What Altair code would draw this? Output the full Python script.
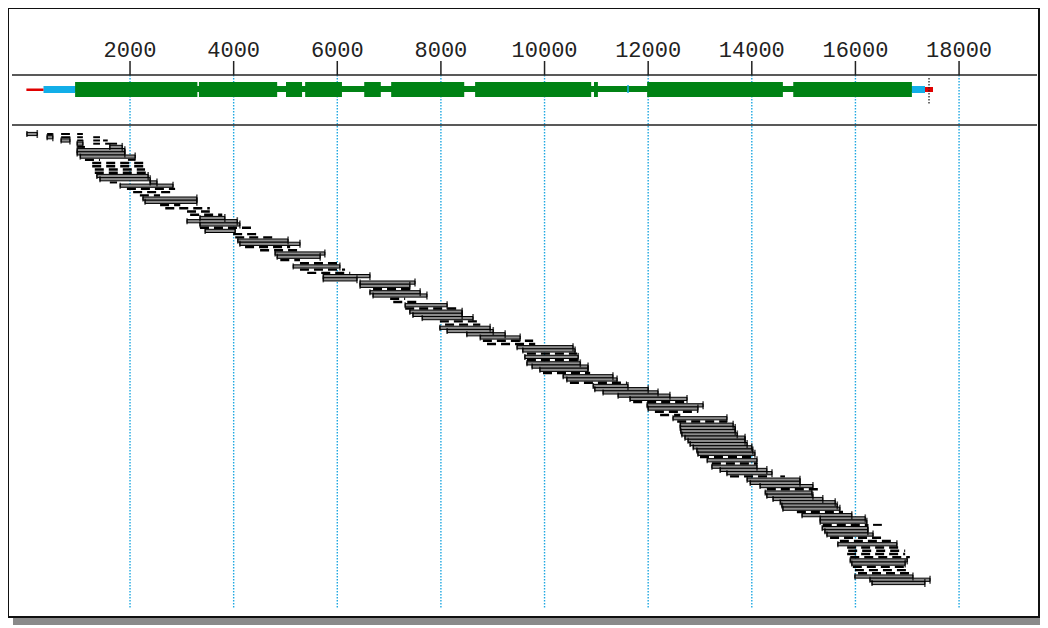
import altair as alt
import pandas as pd

# ---- axis ticks (bp) ----
tick_values = [2000, 4000, 6000, 8000, 10000, 12000, 14000, 16000, 18000]

# ---- gene model (bp) ----
exon_start = [940, 3330, 5010, 5380, 6520, 7040, 8660, 10955, 11980, 14800]
exon_end = [3300, 4840, 5320, 6090, 6840, 8450, 10900, 11030, 14600, 17090]
intron_start = [940]
intron_end = [17090]
utr_start = [330, 17090]
utr_end = [940, 17343]
flank_start = [0]
flank_end = [330]
flank3_start = [17343]
flank3_end = [17497]
mark_pos = [11611]
end_marker = [17420]

# ---- aligned reads: one main read per row (bp) ----
read_start = [10, 400, 670, 980, 1610, 980, 980, 1040, 1130, 1270,
              1270, 1320, 1320, 1360, 1420, 2390, 1810, 1940, 2060, 2190,
              2250, 2290, 2580, 2680, 3100, 3160, 3350, 3100, 3350, 3350,
              3450, 3990, 4030, 4080, 4120, 4220, 4510, 4800, 4840, 4900,
              5280, 5150, 5280, 5420, 5730, 5730, 6440, 6440, 6690, 6630,
              6690, 7020, 7080, 7310, 7310, 7400, 7460, 7640, 7980, 8080,
              7980, 8120, 8500, 8760, 8810, 8890, 9470, 9580, 9660, 9620,
              9660, 9660, 9760, 9910, 9970, 10360, 10430, 10490, 10940, 10970,
              11130, 11420, 11650, 11710, 11980, 12000, 12130, 12230, 12480, 12560,
              12620, 12620, 12630, 12650, 12710, 12770, 12810, 12870, 12940, 12960,
              13000, 13140, 13230, 13230, 13390, 13520, 13580, 13910, 13970, 14160,
              14290, 14260, 14290, 14410, 14550, 14580, 14600, 14870, 14970, 15320,
              15320, 15370, 15360, 15410, 15450, 15510, 15700, 15660, 15840, 15860,
              15840, 15900, 15900, 15930, 15950, 15990, 16050, 15990, 16280, 16320]
read_end = [210, 510, 840, 1090, 1850, 1900, 1900, 2100, 1420, 2330,
            2330, 2290, 2350, 2350, 2390, 2520, 2830, 2870, 2870, 2580,
            3290, 3290, 2970, 3540, 3540, 3780, 3830, 4070, 4120, 4410,
            4030, 4450, 4840, 5050, 5280, 5090, 5280, 5760, 5670, 5280,
            6000, 6050, 6150, 6250, 6630, 6380, 7500, 7400, 7460, 7600,
            7730, 7310, 7600, 8120, 8370, 8410, 8410, 8620, 8700, 8760,
            8950, 9010, 9240, 9530, 9780, 9820, 10550, 10590, 10630, 10650,
            10690, 10690, 10840, 10840, 10880, 11320, 11400, 11590, 11610, 12000,
            12190, 12420, 12750, 12770, 13060, 12960, 12960, 12620, 13520, 13520,
            13640, 13680, 13680, 13720, 13870, 13870, 13910, 14000, 14020, 14060,
            14060, 14100, 14100, 14100, 14290, 14390, 14350, 14930, 14930, 15180,
            15360, 15160, 15180, 15370, 15610, 15650, 15700, 15760, 15930, 16190,
            16220, 16240, 16240, 16240, 16340, 16530, 16730, 16800, 16860, 16960,
            16960, 17050, 17000, 16960, 17020, 17050, 17090, 17110, 17440, 17340]
read_style = list(
    "ssssssssdd" "dddssssddd" "ssddddsssd" "sddssddssd" "dsddssssds"
    "sddsdsssdd" "ssssddssds" "dsssdssdss" "sssdssddsd" "ssssssssss"
    "dsdsssdsss" "dssssssdss" "sdsssddsdd" "ddssdddsss")

# short extra fragments sharing rows
frag_row = [0, 0, 0, 1, 1, 1, 2, 2, 2, 3, 3, 4, 8, 15, 106, 121]
frag_start = [400, 670, 980, 670, 980, 1290, 980, 1290, 1480, 1290, 1520, 980, 1960, 1610, 14550, 16340]
frag_end = [510, 840, 1090, 840, 1090, 1420, 1090, 1420, 1570, 1420, 1750, 1130, 2100, 1750, 14640, 16510]

xs = alt.Scale(domain=[-355, 19620], range=[0, 1035], nice=False, zero=False)
ys = alt.Scale(domain=[0, 139], range=[121, 580], nice=False, zero=False)

reads = pd.DataFrame({"row": list(range(len(read_start))), "start": read_start,
                      "end": read_end, "style": read_style})
frags = pd.DataFrame({"row": frag_row, "start": frag_start, "end": frag_end})
ticks = pd.DataFrame({"pos": tick_values, "label": [str(v) for v in tick_values]})

def span(starts, ends):
    return pd.DataFrame({"start": starts, "end": ends})

def X(f):
    return alt.X(f, scale=xs, axis=None)

Y = alt.Y("row:Q", scale=ys, axis=None)

grid = alt.Chart(ticks).mark_rule(color="#1ea7e1", strokeWidth=1.4, strokeDash=[1.5, 1.5]).encode(
    x=X("pos:Q"), y=alt.value(67), y2=alt.value(601))
hlines = alt.Chart(pd.DataFrame({"y": [67, 117]})).mark_rule(color="#222", strokeWidth=1.5).encode(
    x=alt.value(4), x2=alt.value(1029), y=alt.Y("y:Q", scale=None))
tickmarks = alt.Chart(ticks).mark_rule(color="#222", strokeWidth=1.5).encode(
    x=X("pos:Q"), y=alt.value(53), y2=alt.value(67))
labels = alt.Chart(ticks).mark_text(font="Liberation Mono", fontSize=22, color="#222",
                                    baseline="alphabetic", align="center").encode(
    x=X("pos:Q"), y=alt.value(49), text="label:N")

intron = alt.Chart(span(intron_start, intron_end)).mark_rect(color="#008214").encode(
    x=X("start:Q"), x2="end:Q", y=alt.value(78), y2=alt.value(84))
exons = alt.Chart(span(exon_start, exon_end)).mark_rect(color="#008214").encode(
    x=X("start:Q"), x2="end:Q", y=alt.value(74), y2=alt.value(89))
utr = alt.Chart(span(utr_start, utr_end)).mark_rect(color="#12aee8").encode(
    x=X("start:Q"), x2="end:Q", y=alt.value(78), y2=alt.value(85))
flank = alt.Chart(span(flank_start, flank_end)).mark_rect(color="#e00000").encode(
    x=X("start:Q"), x2="end:Q", y=alt.value(80.5), y2=alt.value(83))
flank3 = alt.Chart(span(flank3_start, flank3_end)).mark_rect(color="#e00000").encode(
    x=X("start:Q"), x2="end:Q", y=alt.value(79), y2=alt.value(84))
blue_mark = alt.Chart(pd.DataFrame({"pos": mark_pos})).mark_rule(color="#12aee8", strokeWidth=1.5).encode(
    x=X("pos:Q"), y=alt.value(77), y2=alt.value(85))
end_line = alt.Chart(pd.DataFrame({"pos": end_marker})).mark_rule(color="#222", strokeWidth=1.3,
                                                                   strokeDash=[1.5, 1.5]).encode(
    x=X("pos:Q"), y=alt.value(70), y2=alt.value(96))

solid = alt.Chart(reads).transform_filter("datum.style == 's'").mark_bar(
    color="#8c8c8c", stroke="#000", strokeWidth=1, height=3.2).encode(
    x=X("start:Q"), x2="end:Q", y=Y)
dashed = alt.Chart(reads).transform_filter("datum.style == 'd'").mark_rule(
    color="#000", strokeWidth=2.4, strokeDash=[9, 5]).encode(
    x=X("start:Q"), x2="end:Q", y=Y)
fragl = alt.Chart(frags).mark_rule(color="#000", strokeWidth=2).encode(
    x=X("start:Q"), x2="end:Q", y=Y)
end_ticks = alt.Chart(reads).transform_filter("datum.style == 's'").mark_tick(
    orient="vertical", color="#000", size=8, thickness=1.6).encode(
    x=X("end:Q"), y=Y)
start_ticks = alt.Chart(reads).transform_filter("datum.style == 's'").mark_tick(
    orient="vertical", color="#000", size=6, thickness=1.6).encode(
    x=X("start:Q"), y=Y)

shadow_b = alt.Chart(pd.DataFrame({"a": [0]})).mark_rect(color="#8a8a8a").encode(
    x=alt.value(5), x2=alt.value(1032), y=alt.value(610), y2=alt.value(617))

chart = alt.layer(
    grid, hlines, tickmarks, labels,
    intron, exons, utr, flank, flank3, blue_mark, end_line,
    solid, dashed, fragl, end_ticks, start_ticks,
    shadow_b,
).properties(
    width=1031, height=609,
    padding={"left": 0, "top": 0, "right": 1, "bottom": 9},
    autosize=alt.AutoSizeParams(type="none"),
    background="white",
).configure_view(stroke="#111", strokeWidth=2)

chart.save("out.html", embed_options={"renderer": "svg", "actions": False})
